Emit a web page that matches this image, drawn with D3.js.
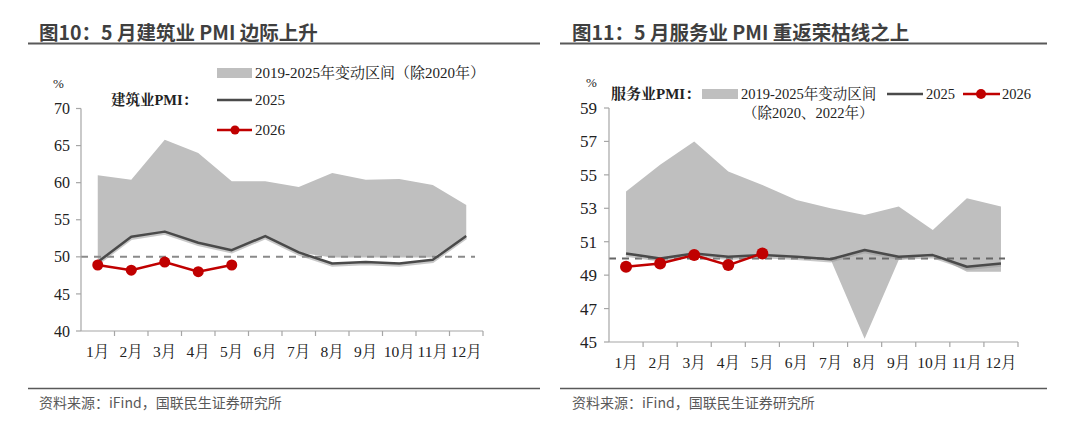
<!DOCTYPE html>
<html><head><meta charset="utf-8">
<script src="https://cdn.jsdelivr.net/npm/d3@7/dist/d3.min.js"></script>
<style>
html,body{margin:0;padding:0;background:#fff;}
svg{display:block;}
</style></head>
<body>
<svg id="c" width="1080" height="426"></svg>
<script>
// ---------- data ----------
const months = ["1月","2月","3月","4月","5月","6月","7月","8月","9月","10月","11月","12月"];

// construction PMI
const conBandHigh = [61.0,60.4,65.8,64.0,60.2,60.2,59.4,61.3,60.4,60.5,59.7,57.0];
const conBandLow  = [49.3,52.7,53.4,51.9,50.9,52.8,50.6,49.9,49.9,49.9,49.9,52.8];
const con2025     = [49.3,52.7,53.4,51.9,50.9,52.8,50.6,49.1,49.3,49.1,49.6,52.8];
const con2026     = [48.9,48.2,49.3,48.0,48.9];
const conTicks    = [40,45,50,55,60,65,70];

// services PMI
const svcBandHigh = [54.0,55.6,57.0,55.2,54.4,53.5,53.0,52.6,53.1,51.7,53.6,53.1];
const svcBandLow  = [50.2,50.0,50.3,50.1,50.2,50.1,49.95,45.2,49.9,50.2,49.2,49.2];
const svc2025     = [50.3,50.0,50.3,50.1,50.2,50.1,49.95,50.5,50.1,50.2,49.5,49.7];
const svc2026     = [49.5,49.7,50.2,49.6,50.3];
const svcTicks    = [45,47,49,51,53,55,57,59];

const threshold = 50;

const titles  = ["图10：5 月建筑业 PMI 边际上升", "图11：5 月服务业 PMI 重返荣枯线之上"];
const sources = "资料来源：iFind，国联民生证券研究所";

// ---------- drawing ----------
const svg = d3.select("#c");
const SERIF = "'Liberation Serif','Times New Roman','Noto Serif CJK SC','Noto Sans CJK SC',serif";
const SANS  = "'Noto Sans CJK SC','Noto Sans',sans-serif";
const GREY_BAND = "#bfbfbf", LINE25 = "#4a4a4a", RED = "#c00000", AXIS = "#a6a6a6";

function frame(x0, x1, titleX, title){
  svg.append("text").attr("x", titleX).attr("y", 39.5)
    .attr("font-family", SANS).attr("font-weight", 700).attr("font-size", 19.5)
    .attr("fill", "#3f3f3f").text(title);
  svg.append("line").attr("x1", x0).attr("x2", x1).attr("y1", 43.5).attr("y2", 43.5)
    .attr("stroke", "#595959").attr("stroke-width", 2);
  svg.append("line").attr("x1", x0).attr("x2", x1).attr("y1", 388.5).attr("y2", 388.5)
    .attr("stroke", "#595959").attr("stroke-width", 1.5);
  svg.append("text").attr("x", titleX).attr("y", 408)
    .attr("font-family", SANS).attr("font-size", 14)
    .attr("fill", "#595959").text(sources);
}

function chart(o){
  const g = svg.append("g");
  const x = d3.scaleBand().domain(months).range([o.xl, o.xr]).paddingInner(0).paddingOuter(0);
  const y = d3.scaleLinear().domain(o.domain).range([o.yb, o.yt]);
  const cx = m => x(m) + x.bandwidth()/2;

  // band
  const area = d3.area().x((d,i)=>cx(months[i])).y0((d,i)=>y(o.low[i])).y1(d=>y(d));
  g.append("path").datum(o.high).attr("d", area).attr("fill", GREY_BAND);

  // threshold dashed
  g.append("line").attr("x1", o.xl).attr("x2", o.dashEnd)
    .attr("y1", y(threshold)).attr("y2", y(threshold))
    .attr("stroke", o.dashCol).attr("stroke-width", 2).attr("stroke-dasharray", "7,6");

  // 2025 line with soft shadow
  const line = d3.line().x((d,i)=>cx(months[i])).y(d=>y(d));
  g.append("path").datum(o.s25).attr("d", line).attr("transform","translate(0,2)")
    .attr("fill","none").attr("stroke","#9a9a9a").attr("stroke-opacity",0.55).attr("stroke-width",2.5);
  g.append("path").datum(o.s25).attr("d", line)
    .attr("fill","none").attr("stroke",LINE25).attr("stroke-width",2.5).attr("stroke-linejoin","round");

  // 2026 line
  g.append("path").datum(o.s26).attr("d", line)
    .attr("fill","none").attr("stroke",RED).attr("stroke-width",2.5);
  g.selectAll("circle.p26").data(o.s26).enter().append("circle")
    .attr("cx",(d,i)=>cx(months[i])).attr("cy",d=>y(d)).attr("r",o.r).attr("fill",RED);

  // y axis
  g.append("line").attr("x1",o.xl).attr("x2",o.xl).attr("y1",o.yt).attr("y2",o.yb)
    .attr("stroke",AXIS).attr("stroke-width",1.2);
  o.ticks.forEach(t=>{
    g.append("line").attr("x1",o.xl-5).attr("x2",o.xl).attr("y1",y(t)).attr("y2",y(t))
      .attr("stroke",AXIS).attr("stroke-width",1.2);
    g.append("text").attr("x",o.ylabX).attr("y",y(t)).attr("dy","0.35em")
      .attr("text-anchor","end").attr("font-family",SERIF).attr("font-size",o.yfs)
      .attr("fill","#222").text(t);
  });
  // x axis
  g.append("line").attr("x1",o.xl).attr("x2",o.xr).attr("y1",o.yb).attr("y2",o.yb)
    .attr("stroke",AXIS).attr("stroke-width",1.2);
  months.forEach((m,i)=>{
    g.append("line").attr("x1",x(m)+x.bandwidth()).attr("x2",x(m)+x.bandwidth())
      .attr("y1",o.yb).attr("y2",o.yb+5).attr("stroke",AXIS).attr("stroke-width",1.2);
    g.append("text").attr("x",cx(m)).attr("y",o.xlabY).attr("dy","0.35em")
      .attr("text-anchor","middle").attr("font-family",SERIF).attr("font-size",15.5)
      .attr("fill","#222").text(m);
  });
  g.append("text").attr("x",o.pctX).attr("y",o.pctY).attr("dy","0.35em")
    .attr("font-family",SERIF).attr("font-size",13).attr("fill","#222").text("%");
  return g;
}

function lt(x, y, s, opts={}){
  return svg.append("text").attr("x",x).attr("y",y).attr("dy","0.35em")
    .attr("font-family",SERIF).attr("font-size",opts.fs||15)
    .attr("font-weight",opts.bold?700:400).attr("fill","#222").text(s);
}

// left panel
frame(28, 540, 39, titles[0]);
chart({xl:81, xr:483, yt:108.5, yb:331, domain:[40,70], ticks:conTicks,
  high:conBandHigh, low:conBandLow, s25:con2025, s26:con2026, r:5.5, dashCol:"#8a8a8a",
  dashEnd:475, ylabX:70, yfs:16, xlabY:352, pctX:53, pctY:83});
svg.append("rect").attr("x",217).attr("y",68).attr("width",35).attr("height",10).attr("fill",GREY_BAND);
lt(255,73,"2019-2025年变动区间（除2020年）");
lt(111,100,"建筑业PMI：",{bold:true,fs:14.5});
svg.append("line").attr("x1",217).attr("x2",252).attr("y1",100).attr("y2",100).attr("stroke",LINE25).attr("stroke-width",2.5);
lt(255,100,"2025");
svg.append("line").attr("x1",217).attr("x2",252).attr("y1",130).attr("y2",130).attr("stroke",RED).attr("stroke-width",2.5);
svg.append("circle").attr("cx",235).attr("cy",130).attr("r",4.5).attr("fill",RED);
lt(255,130,"2026");

// right panel
frame(560, 1047, 572, titles[1]);
chart({xl:609, xr:1018, yt:108, yb:342, domain:[45,59], ticks:svcTicks,
  high:svcBandHigh, low:svcBandLow, s25:svc2025, s26:svc2026, r:6, dashCol:"#666666",
  dashEnd:1005, ylabX:597, yfs:17, xlabY:363, pctX:586, pctY:82});
lt(611,94,"服务业PMI：",{bold:true,fs:15});
svg.append("rect").attr("x",702).attr("y",89).attr("width",36).attr("height",10).attr("fill",GREY_BAND);
lt(741,94,"2019-2025年变动区间",{fs:14.5});
lt(743,113,"（除2020、2022年）",{fs:14.5});
svg.append("line").attr("x1",887).attr("x2",923).attr("y1",94).attr("y2",94).attr("stroke",LINE25).attr("stroke-width",2.5);
lt(926,94,"2025",{fs:14.5});
svg.append("line").attr("x1",963).attr("x2",1000).attr("y1",94).attr("y2",94).attr("stroke",RED).attr("stroke-width",2.5);
svg.append("circle").attr("cx",981).attr("cy",94).attr("r",5).attr("fill",RED);
lt(1002,94,"2026",{fs:14.5});
</script>
</body></html>
